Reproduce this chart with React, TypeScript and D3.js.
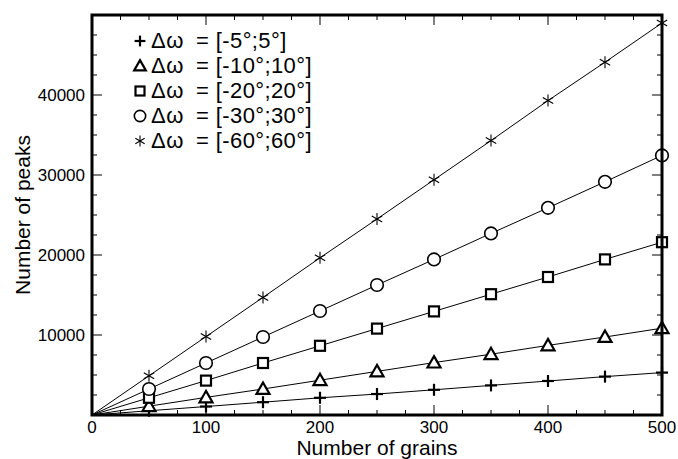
import React from "react";
import * as d3 from "d3";

const grains = [50, 100, 150, 200, 250, 300, 350, 400, 450, 500];
const peaks5 = [530, 1060, 1600, 2150, 2620, 3150, 3700, 4250, 4800, 5300];
const peaks10 = [1100, 2200, 3250, 4350, 5450, 6550, 7600, 8700, 9750, 10850];
const peaks20 = [2150, 4300, 6500, 8650, 10800, 12950, 15100, 17250, 19450, 21600];
const peaks30 = [3250, 6500, 9750, 13000, 16250, 19450, 22700, 25900, 29150, 32450];
const peaks60 = [4900, 9800, 14700, 19650, 24500, 29400, 34300, 39300, 44100, 49000];
const legendLabels = ["= [-5°;5°]", "= [-10°;10°]", "= [-20°;20°]", "= [-30°;30°]", "= [-60°;60°]"];
const markers = ["plus", "triangle", "square", "circle", "asterisk"];
const xTicks = [0, 100, 200, 300, 400, 500];
const yTicks = [10000, 20000, 30000, 40000];

const W = 678, H = 459;
const L = 92, R = 662, T = 15, B = 415;
const FONT = "'Liberation Sans', Arial, Helvetica, sans-serif";

function Marker({ type, x, y, k = 1 }: { type: string; x: number; y: number; k?: number }) {
  switch (type) {
    case "plus":
      return (
        <g stroke="#000" strokeWidth={2.2}>
          <line x1={x - 6 * k} y1={y} x2={x + 6 * k} y2={y} />
          <line x1={x} y1={y - 6 * k} x2={x} y2={y + 6 * k} />
        </g>
      );
    case "triangle": {
      const s = 6.5 * k;
      return (
        <path
          d={`M${x},${y - s}L${x + s},${y + s * 0.75}L${x - s},${y + s * 0.75}Z`}
          fill="#fff"
          stroke="#000"
          strokeWidth={2.2}
        />
      );
    }
    case "square":
      return <rect x={x - 5 * k} y={y - 5 * k} width={10 * k} height={10 * k} fill="#fff" stroke="#000" strokeWidth={2.2} />;
    case "circle":
      return <circle cx={x} cy={y} r={6.3 * k} fill="#fff" stroke="#000" strokeWidth={1.6} />;
    default: {
      const r = 6 * k;
      const arms = [0, 60, 120].map((a) => {
        const rad = ((a + 90) * Math.PI) / 180;
        return (
          <line key={a} x1={x - r * Math.cos(rad)} y1={y - r * Math.sin(rad)} x2={x + r * Math.cos(rad)} y2={y + r * Math.sin(rad)} />
        );
      });
      return (
        <g stroke="#000" strokeWidth={1.1}>
          {arms}
        </g>
      );
    }
  }
}

export default function App() {
  const x = d3.scaleLinear().domain([0, 500]).range([L, R]);
  const y = d3.scaleLinear().domain([0, 50000]).range([B, T]);
  const series = [peaks5, peaks10, peaks20, peaks30, peaks60];
  const line = d3
    .line<[number, number]>()
    .x((d) => x(d[0]))
    .y((d) => y(d[1]));

  const xMinor = d3.range(0, 501, 25);
  const yMinor = d3.range(0, 50001, 2500);

  return (
    <svg width={W} height={H} style={{ position: "absolute", left: 0, top: 0 }} fontFamily={FONT}>
      <rect width={W} height={H} fill="#fff" />
      {/* ticks */}
      <g stroke="#000" strokeWidth={1}>
        {xMinor.map((v) => {
          const len = v % 100 === 0 ? 10 : 5;
          return (
            <g key={"x" + v}>
              <line x1={x(v)} x2={x(v)} y1={B} y2={B - len} />
              <line x1={x(v)} x2={x(v)} y1={T} y2={T + len} />
            </g>
          );
        })}
        {yMinor.map((v) => {
          const len = v % 10000 === 0 ? 10 : 5;
          return (
            <g key={"y" + v}>
              <line x1={L} x2={L + len} y1={y(v)} y2={y(v)} />
              <line x1={R} x2={R - len} y1={y(v)} y2={y(v)} />
            </g>
          );
        })}
      </g>
      {/* lines */}
      {series.map((s, i) => (
        <path
          key={"l" + i}
          d={line([[0, 0], ...grains.map((g, j) => [g, s[j]] as [number, number])]) || ""}
          fill="none"
          stroke="#000"
          strokeWidth={1}
        />
      ))}
      {/* markers */}
      {series.map((s, i) => (
        <g key={"m" + i}>
          {grains.map((g, j) => (
            <Marker key={j} type={markers[i]} x={x(g)} y={y(s[j])} />
          ))}
        </g>
      ))}
      {/* frame */}
      <rect x={L} y={T} width={R - L} height={B - T} fill="none" stroke="#000" strokeWidth={3} />
      {/* tick labels */}
      {xTicks.map((v) => (
        <text key={"xt" + v} x={x(v)} y={433} fontSize={17} textAnchor="middle">
          {v}
        </text>
      ))}
      {yTicks.map((v) => (
        <text key={"yt" + v} x={85} y={y(v) + 6} fontSize={17} textAnchor="end">
          {v}
        </text>
      ))}
      {/* axis titles */}
      <text x={(L + R) / 2} y={455} fontSize={21} textAnchor="middle">
        Number of grains
      </text>
      <text transform={`translate(30,${(T + B) / 2}) rotate(-90)`} fontSize={21} textAnchor="middle">
        Number of peaks
      </text>
      {/* legend */}
      {legendLabels.map((lab, i) => {
        const ly = 41 + i * 25;
        return (
          <g key={"lg" + i}>
            <Marker type={markers[i]} x={140} y={ly} k={0.9} />
            <text x={151} y={ly + 6.5} fontSize={22} letterSpacing={0.6}>
              Δω
            </text>
            <text x={196} y={ly + 6.5} fontSize={22} letterSpacing={0.4}>
              {lab}
            </text>
          </g>
        );
      })}
    </svg>
  );
}
